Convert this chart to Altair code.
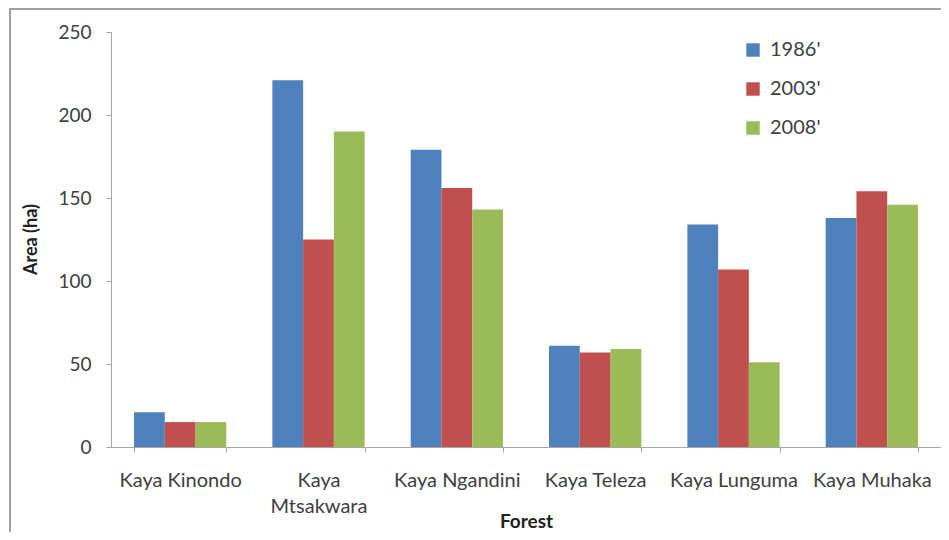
import altair as alt
import pandas as pd

forests = ["Kaya Kinondo", "Kaya Mtsakwara", "Kaya Ngandini", "Kaya Teleza", "Kaya Lunguma", "Kaya Muhaka"]
years = ["1986'", "2003'", "2008'"]
area_1986 = [21, 221, 179, 61, 134, 138]
area_2003 = [15, 125, 156, 57, 107, 154]
area_2008 = [15, 190, 143, 59, 51, 146]
colors = ["#4F81BD", "#C0504D", "#9BBB59"]

rows = []
for series, yr in zip([area_1986, area_2003, area_2008], years):
    for f, v in zip(forests, series):
        rows.append({"Forest": f, "Year": yr, "Area": v})
df = pd.DataFrame(rows)

FONT = "Lato"
TXT = "#404040"

bars = alt.Chart(df).mark_bar().encode(
    x=alt.X("Forest:N", sort=forests,
            scale=alt.Scale(paddingInner=0.333, paddingOuter=0.1665),
            axis=alt.Axis(title="Forest", labelAngle=0, tickBand="extent",
                          labelExpr="datum.label == 'Kaya Mtsakwara' ? ['Kaya', 'Mtsakwara'] : datum.label",
                          labelFontSize=20, labelPadding=28, labelLineHeight=26,
                          labelBaseline="middle",
                          titleFontSize=19, titleFontWeight="bold", titleY=74,
                          titleBaseline="middle", tickSize=5)),
    xOffset=alt.XOffset("Year:N", sort=years),
    y=alt.Y("Area:Q", scale=alt.Scale(domain=[0, 250]),
            axis=alt.Axis(title="Area (ha)", values=[0, 50, 100, 150, 200, 250],
                          labelFontSize=19, labelPadding=15, tickSize=5, grid=False,
                          titleFontSize=18, titleFontWeight="bold",
                          titleX=-80, titleY=207, titleAngle=-90,
                          titleAlign="center", titleBaseline="middle")),
    color=alt.Color("Year:N", sort=years,
                    scale=alt.Scale(domain=years, range=colors),
                    legend=alt.Legend(title=None, orient="none", legendX=632, legendY=8,
                                      symbolType="square", symbolSize=180,
                                      symbolStrokeWidth=0, labelFontSize=20,
                                      rowPadding=19, padding=0, labelOffset=7)),
)

frame = alt.Chart(pd.DataFrame({"a": [0]})).mark_rect(
    fill=None, stroke="#A0A0A0", strokeWidth=2
).encode(
    x=alt.value(-101), x2=alt.value(1000), y=alt.value(-23), y2=alt.value(800)
)

chart = alt.layer(frame, bars).properties(
    width=830, height=415,
    autosize=alt.AutoSizeParams(type="none"),
    padding={"left": 103, "top": 24, "right": 0, "bottom": 85},
).configure_axis(
    labelFont=FONT, titleFont=FONT, labelColor=TXT, titleColor="#222222",
    domainColor="#A6A6A6", tickColor="#A6A6A6",
).configure_legend(
    labelFont=FONT, labelColor=TXT,
).configure_view(
    stroke=None,
)

chart.save("out.html", embed_options={"renderer": "svg", "actions": False})
